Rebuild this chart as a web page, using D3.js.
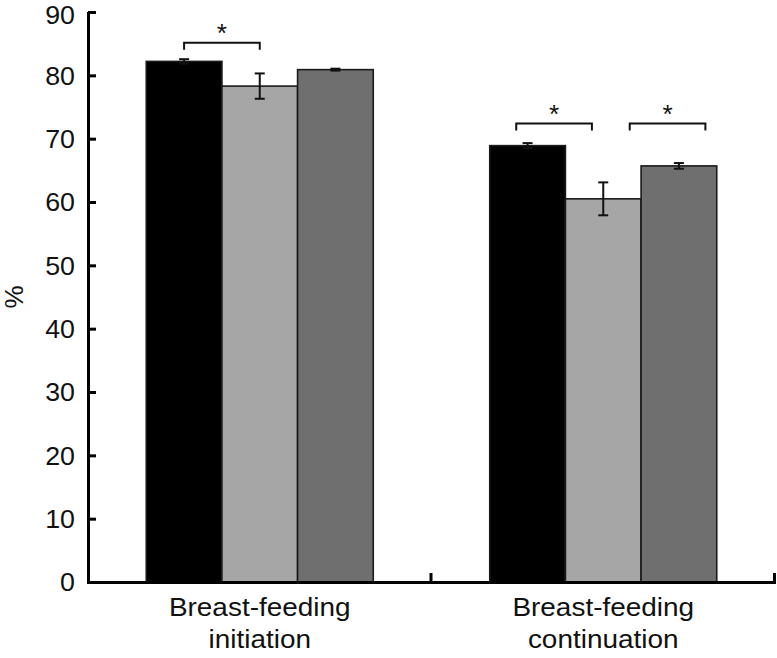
<!DOCTYPE html>
<html>
<head>
<meta charset="utf-8">
<script src="https://cdn.jsdelivr.net/npm/d3@7"></script>
<style>
  html, body { margin: 0; padding: 0; background: #fff; }
  svg { display: block; }
  text { font-family: "Liberation Sans", Arial, sans-serif; fill: #111; }
</style>
</head>
<body>
<svg id="chart" width="777" height="658"></svg>
<script>
// ---- data ----
const categories = ["Breast-feeding\ninitiation", "Breast-feeding\ncontinuation"];
const seriesNames = ["Group A", "Group B", "Group C"];
const seriesColors = ["#000000", "#a6a6a6", "#6f6f6f"];
const values = [
  [82.2, 78.3, 80.9],   // initiation
  [68.9, 60.5, 65.7]    // continuation
];
const errors = [
  [0.35, 2.0, 0.15],
  [0.4, 2.6, 0.45]
];
const yTicks = [0, 10, 20, 30, 40, 50, 60, 70, 80, 90];
// significance brackets: category index, from/to bar position (bar-index units), level
const brackets = [
  { cat: 0, from: 0, to: 1, level: 85.15, label: "*" },
  { cat: 1, from: -0.15, to: 0.85, level: 72.4, label: "*" },
  { cat: 1, from: 1.35, to: 2.35, level: 72.4, label: "*" }
];

// ---- layout ----
const svg = d3.select("#chart");
const X0 = 88, X1 = 775, Y0 = 582, Y1 = 12;

const y = d3.scaleLinear().domain([0, 90]).range([Y0, Y1]);
const x = d3.scaleBand().domain(categories).range([X0, X1]).padding(0);
const groupWidth = 227;
const inner = d3.scaleBand().domain(d3.range(seriesNames.length))
  .range([0, groupWidth]).padding(0);
const bw = inner.bandwidth();
const groupLeft = c => x(c) + (x.bandwidth() - groupWidth) / 2;
const barCenter = (ci, pos) => groupLeft(categories[ci]) + pos * bw + bw / 2;

function stretchedText(sel, tx, ty, str, size, anchor, stretch, rot) {
  return sel.append("text")
    .attr("transform", `translate(${tx},${ty})` + (rot ? ` rotate(${rot})` : "") + ` scale(${stretch},1)`)
    .attr("text-anchor", anchor)
    .attr("font-size", size)
    .text(str);
}

// bars
const g = svg.append("g");
categories.forEach((c, ci) => {
  values[ci].forEach((v, si) => {
    const bx = groupLeft(c) + inner(si);
    g.append("rect")
      .attr("x", bx).attr("y", y(v))
      .attr("width", bw).attr("height", y(0) - y(v))
      .attr("fill", seriesColors[si])
      .attr("stroke", "#1a1a1a").attr("stroke-width", 1.6);
  });
});

// error bars
categories.forEach((c, ci) => {
  values[ci].forEach((v, si) => {
    const cx = barCenter(ci, si);
    const e = errors[ci][si];
    const capW = 5;
    g.append("line").attr("x1", cx).attr("x2", cx)
      .attr("y1", y(v + e)).attr("y2", y(v - e))
      .attr("stroke", "#111").attr("stroke-width", 2);
    [v + e, v - e].forEach(t => {
      g.append("line").attr("x1", cx - capW).attr("x2", cx + capW)
        .attr("y1", y(t)).attr("y2", y(t))
        .attr("stroke", "#111").attr("stroke-width", 2);
    });
  });
});

// significance brackets
brackets.forEach(b => {
  const xa = barCenter(b.cat, b.from), xb = barCenter(b.cat, b.to);
  const yl = y(b.level), leg = 7;
  svg.append("path")
    .attr("d", `M${xa},${yl + leg} V${yl} H${xb} V${yl + leg}`)
    .attr("fill", "none").attr("stroke", "#111").attr("stroke-width", 2);
  stretchedText(svg, (xa + xb) / 2, yl - 0.5, b.label, 25, "middle", 1.05);
});

// y axis
const yAxis = d3.axisRight(y).tickValues(yTicks).tickSize(8).tickFormat("");
const ya = svg.append("g").attr("transform", `translate(${X0},0)`).call(yAxis);
ya.select(".domain").attr("stroke", "#000").attr("stroke-width", 3)
  .attr("d", `M0.5,${Y1} V${Y0}`);
ya.selectAll(".tick line").attr("stroke", "#000").attr("stroke-width", 3);
yTicks.forEach(t => {
  stretchedText(svg, 75, Math.max(y(t) + 9.3, 23.8), String(t), 26, "end", 1.03);
});

// x axis
const xAxis = d3.axisTop(d3.scaleLinear().domain([0, 1]).range([X0, X1]))
  .tickValues([]).tickSize(0);
const xa = svg.append("g").attr("transform", `translate(0,${Y0})`).call(xAxis);
xa.select(".domain").attr("stroke", "#000").attr("stroke-width", 3)
  .attr("d", `M${X0 - 1},0.5 H${X1 + 1}`);
categories.forEach(c => {
  const edge = x(c) + x.bandwidth();
  xa.append("line").attr("x1", edge - 0.5).attr("x2", edge - 0.5)
    .attr("y1", 0).attr("y2", -9).attr("stroke", "#000").attr("stroke-width", 3);
});

// category labels
categories.forEach(c => {
  const cx = x(c) + x.bandwidth() / 2;
  c.split("\n").forEach((line, li) => {
    stretchedText(svg, cx, 616 + li * 31.5, line, 26, "middle", 1.075);
  });
});

// y label
stretchedText(svg, 23, 297, "%", 26, "middle", 1.0, -90);
</script>
</body>
</html>
